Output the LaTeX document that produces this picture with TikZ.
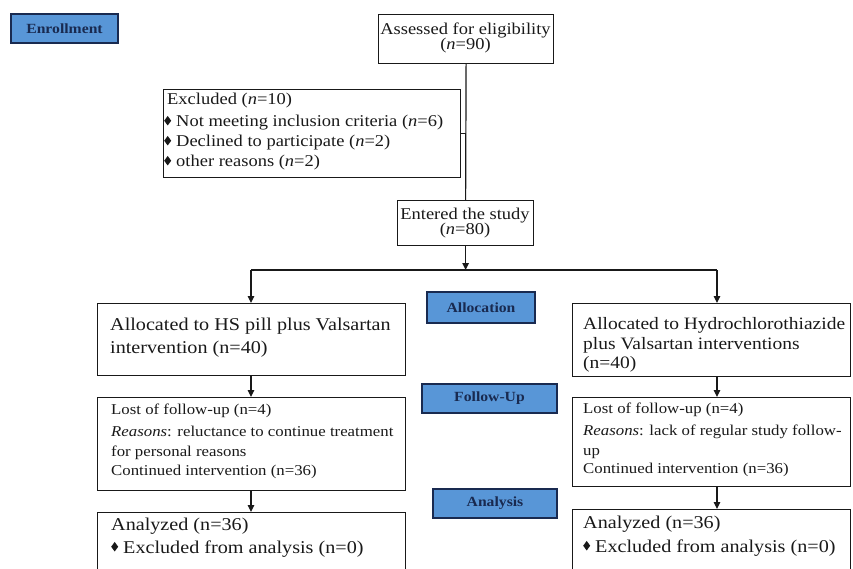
\documentclass[tikz,border=0pt]{standalone}
\usepackage{fontspec}
\setmainfont{Liberation Serif}[FakeStretch=1.12]
\usetikzlibrary{arrows.meta}
\definecolor{boxblue}{RGB}{88,150,215}
\definecolor{navy}{RGB}{25,42,80}
\definecolor{ink}{RGB}{25,25,25}
\newcommand{\dia}{\raisebox{1.5pt}{\scalebox{0.95}[1.3]{\rotatebox{45}{\rule{5.2pt}{5.2pt}}}}\hspace{5pt}}
\begin{document}
\begin{tikzpicture}[x=1pt,y=-1pt,
  box/.style={draw=ink, line width=1.2pt, anchor=north west, inner sep=0pt},
  phase/.style={draw=navy, fill=boxblue, line width=1.2pt, inner sep=0pt,
    font=\bfseries\fontsize{14}{14}\selectfont, text=navy},
  conn/.style={line width=1.2pt, draw=ink},
  arr/.style={conn, -{Triangle[length=7pt,width=6.5pt]}},
  tx/.style={anchor=base west, inner sep=0pt, text=ink},
  tc/.style={anchor=base, inner sep=0pt, text=ink},
  fa/.style={font=\fontsize{16.5}{16.5}\selectfont},
  fb/.style={font=\fontsize{18}{18}\selectfont},
  fr/.style={font=\fontsize{17.4}{17.4}\selectfont},
  fc/.style={font=\fontsize{15}{15}\selectfont}]
\useasboundingbox (0,0) rectangle (853,569);
\clip (0,0) rectangle (853,569);

% phase labels
\node[phase, minimum width=107pt, minimum height=29pt] (enroll) at (64.5,28.5) {Enrollment};
\node[phase, minimum width=108pt, minimum height=31pt] (alloc) at (481,307.5) {Allocation};
\node[phase, minimum width=135pt, minimum height=29pt] (follow) at (489.5,398.5) {Follow-Up};
\node[phase, minimum width=124pt, minimum height=29pt] (analysis) at (495,503.5) {Analysis};

% boxes
\node[box, minimum width=175pt, minimum height=49pt] (assess) at (378,14) {};
\node[box, minimum width=297pt, minimum height=88pt] (excl) at (163,89) {};
\node[box, minimum width=136pt, minimum height=45pt] (entered) at (397,200) {};
\node[box, minimum width=308pt, minimum height=72pt] (lalloc) at (97,303) {};
\node[box, minimum width=278pt, minimum height=73pt] (ralloc) at (572,303) {};
\node[box, minimum width=308pt, minimum height=93pt] (llost) at (97,397) {};
\node[box, minimum width=278pt, minimum height=89pt] (rlost) at (572,397) {};
\node[box, minimum width=308pt, minimum height=100pt] (lanal) at (97,512) {};
\node[box, minimum width=278pt, minimum height=100pt] (ranal) at (572,509) {};

% texts
\node[tc, fa] (t1) at (465.5,35) {Assessed for eligibility};
\node[tc, fa] (t2) at (465.5,50) {(\textit{n}=90)};
\node[tx, fa] (t3) at (167,105) {Excluded (\textit{n}=10)};
\node[tx, fa] (t4) at (164,127) {\dia Not meeting inclusion criteria (\textit{n}=6)};
\node[tx, fa] (t5) at (164,147) {\dia Declined to participate (\textit{n}=2)};
\node[tx, fa] (t6) at (164,167) {\dia other reasons (\textit{n}=2)};
\node[tc, fa] (t7) at (465,219) {Entered the study};
\node[tc, fa] (t8) at (465,234) {(\textit{n}=80)};
\node[tx, fb] (t9) at (110,330) {Allocated to HS pill plus Valsartan};
\node[tx, fb] (t10) at (110,353) {intervention (n=40)};
\node[tx, fr] (t11) at (583,329) {Allocated to Hydrochlorothiazide};
\node[tx, fr] (t12) at (583,349) {plus Valsartan interventions};
\node[tx, fr] (t13) at (583,368) {(n=40)};
\node[tx, fc] (t14) at (111,414) {Lost of follow-up (n=4)};
\node[tx, fc] (t15) at (111,436) {\textit{Reasons}: reluctance to continue treatment};
\node[tx, fc] (t16) at (111,456) {for personal reasons};
\node[tx, fc] (t17) at (111,475) {Continued intervention (n=36)};
\node[tx, fc] (t18) at (583,413) {Lost of follow-up (n=4)};
\node[tx, fc] (t19) at (583,435) {\textit{Reasons}: lack of regular study follow-};
\node[tx, fc] (t20) at (583,455) {up};
\node[tx, fc] (t21) at (583,473) {Continued intervention (n=36)};
\node[tx, fb] (t22) at (111,530) {Analyzed (n=36)};
\node[tx, fb] (t23) at (111,553) {\dia Excluded from analysis (n=0)};
\node[tx, fb] (t24) at (583,528) {Analyzed (n=36)};
\node[tx, fb] (t25) at (583,552) {\dia Excluded from analysis (n=0)};

% connectors
\coordinate (hl) at (251,270);
\coordinate (hr) at (717,270);
\draw[conn] (assess.south) -- (entered.north);
\draw[conn] (excl.east) -- (excl.east -| assess.south);
\draw[arr] (entered.south) -- (entered.south |- hl);
\draw[conn] (hl) -- (hr);
\draw[arr] (hl) -- (hl |- lalloc.north);
\draw[arr] (hr) -- (hr |- ralloc.north);
\draw[arr] (lalloc.south -| hl) -- (llost.north -| hl);
\draw[arr] (ralloc.south -| hr) -- (rlost.north -| hr);
\draw[arr] (llost.south -| hl) -- (lanal.north -| hl);
\draw[arr] (rlost.south -| hr) -- (ranal.north -| hr);
\end{tikzpicture}
\end{document}
